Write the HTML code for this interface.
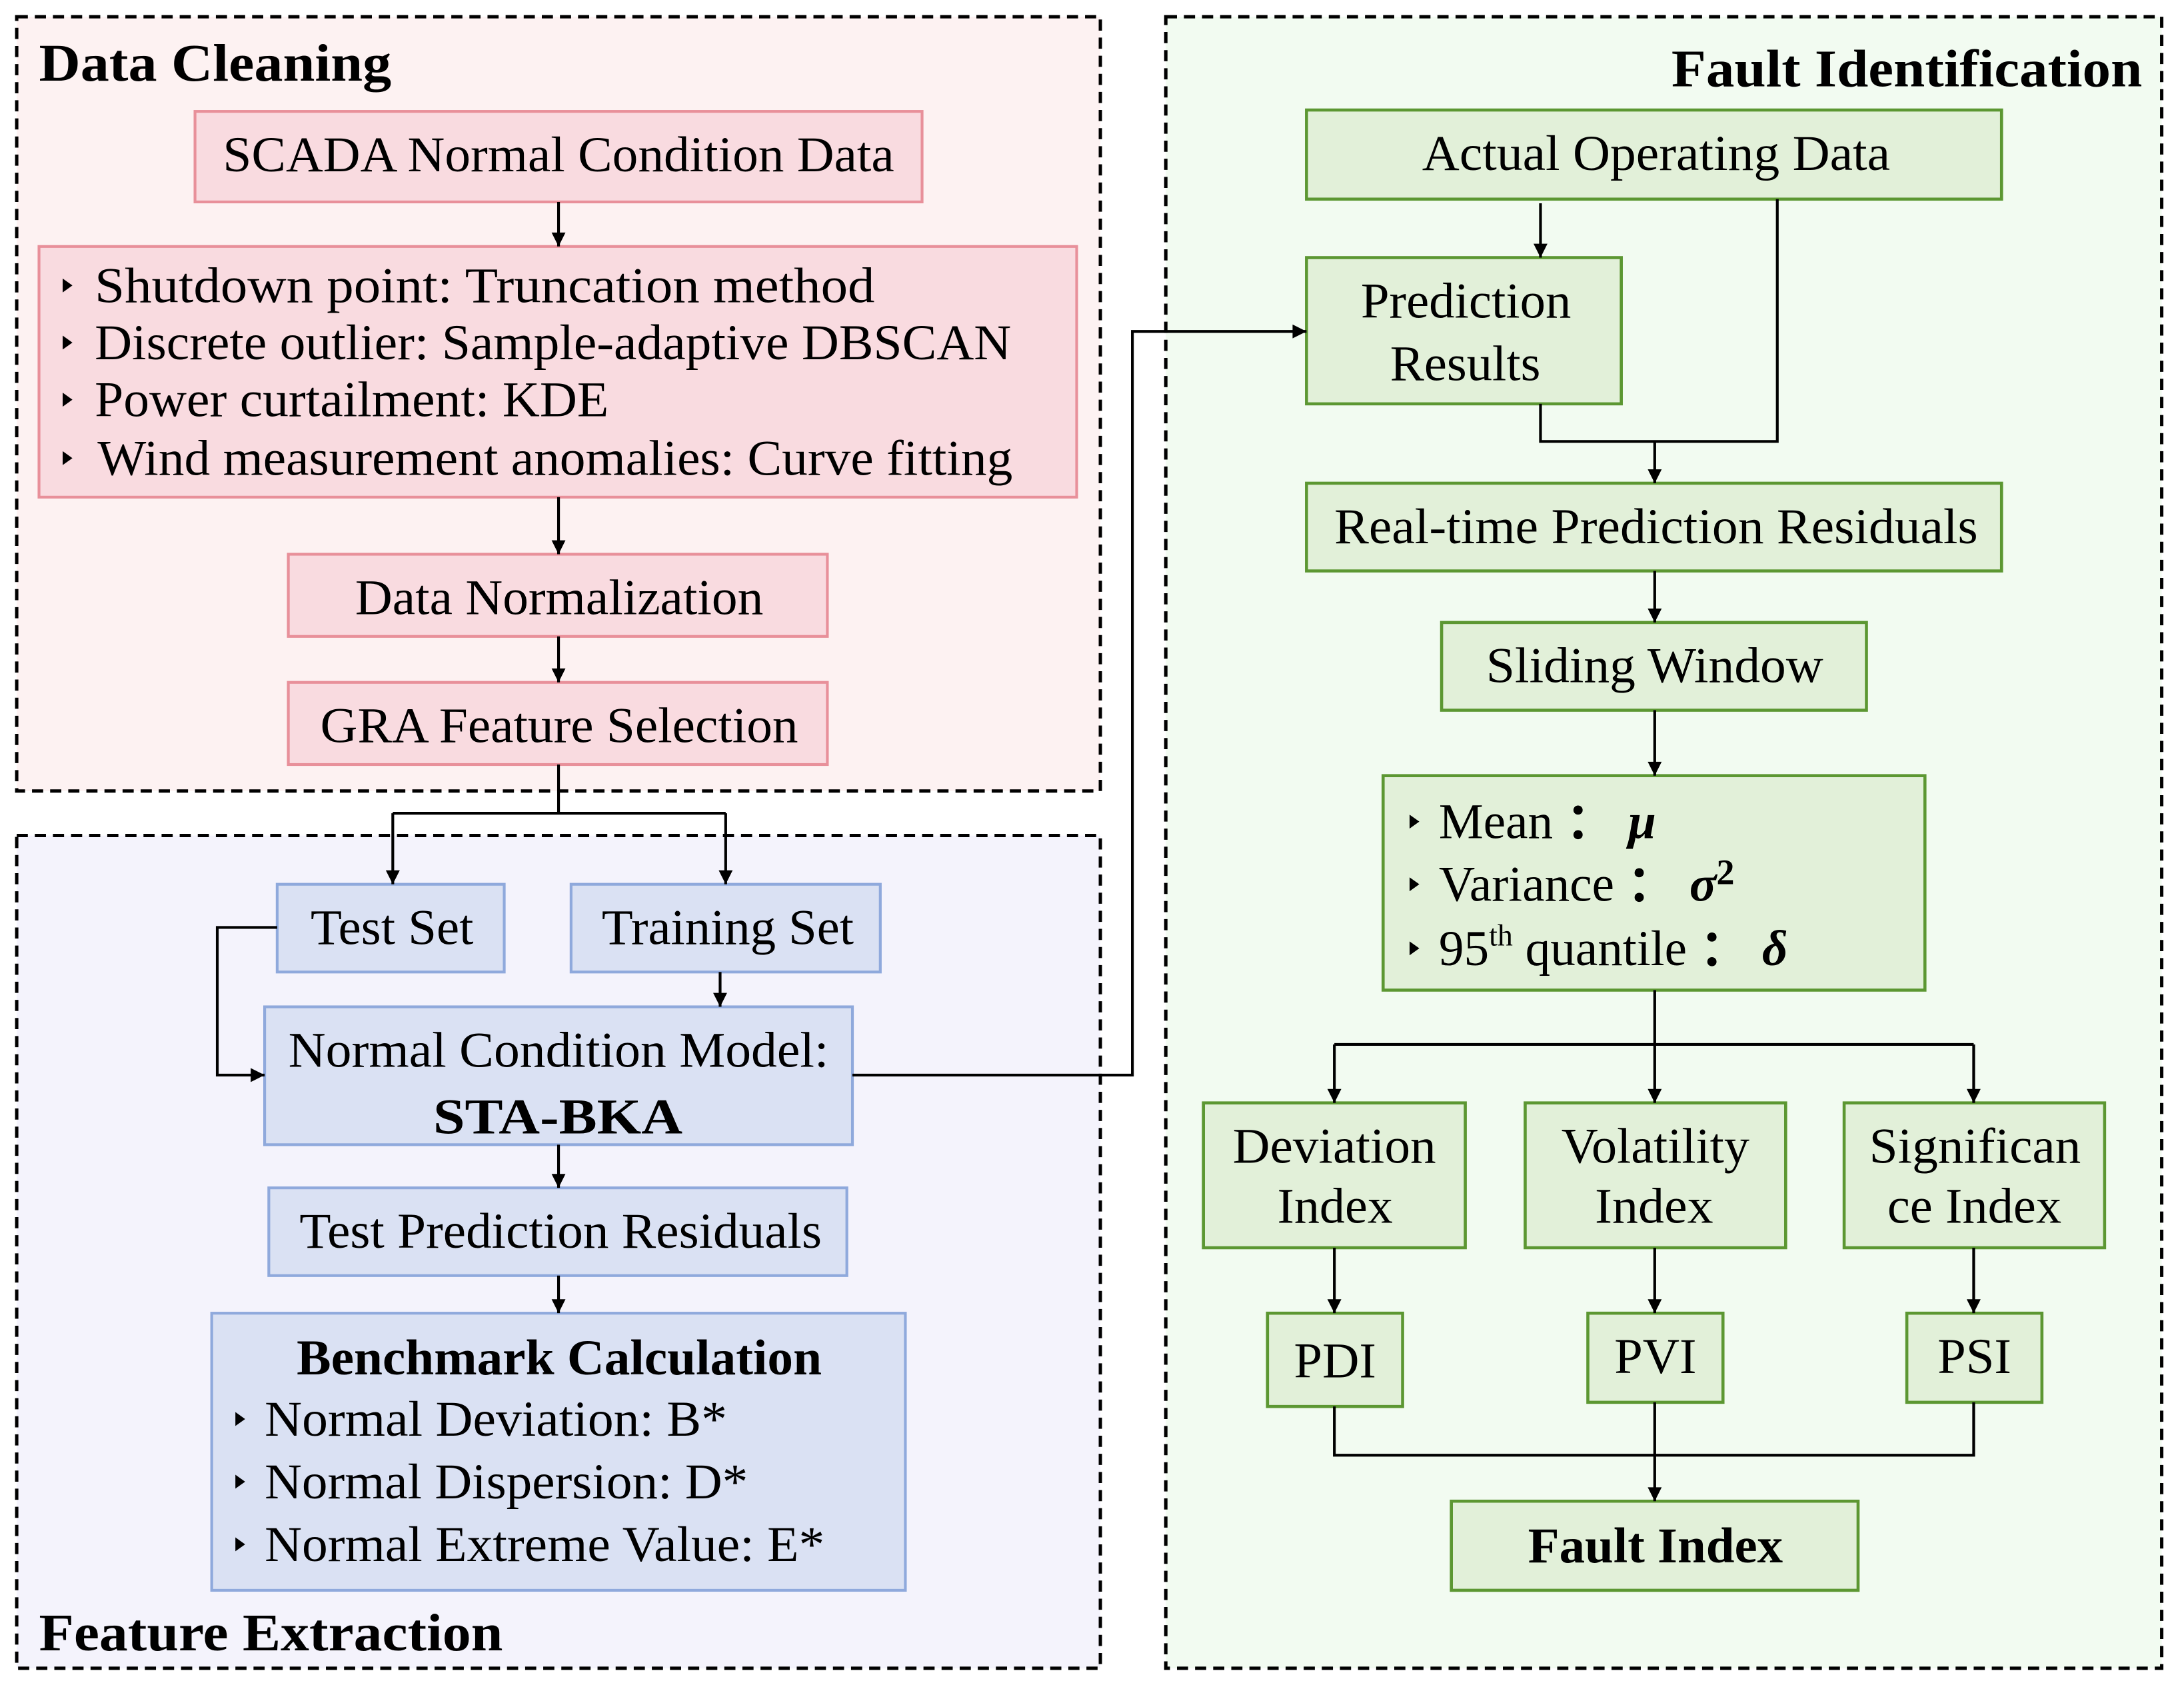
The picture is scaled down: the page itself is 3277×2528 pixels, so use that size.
<!DOCTYPE html>
<html><head><meta charset="utf-8"><style>
html,body{margin:0;padding:0;background:#fff;}
svg{display:block;}
text{font-family:"Liberation Serif",serif;fill:#000;}
</style></head><body>
<svg width="3277" height="2528" viewBox="0 0 1568 1210" preserveAspectRatio="none" xmlns="http://www.w3.org/2000/svg">
<defs>
<marker id="a" viewBox="0 0 10 10" refX="10" refY="5" markerWidth="5.5" markerHeight="5" orient="auto" markerUnits="strokeWidth"><path d="M0,0 L10,5 L0,10 z" fill="#000"/></marker>
</defs>
<rect x="12" y="12" width="778" height="556" fill="#fdf2f2" stroke="#000" stroke-width="2.4" stroke-dasharray="8,5"/>
<rect x="12" y="600" width="778" height="598" fill="#f4f3fc" stroke="#000" stroke-width="2.4" stroke-dasharray="8,5"/>
<rect x="837" y="12" width="715" height="1186" fill="#f2fbf1" stroke="#000" stroke-width="2.4" stroke-dasharray="8,5"/>

<text x="28" y="58" font-size="38" font-weight="bold" textLength="253" lengthAdjust="spacingAndGlyphs">Data Cleaning</text>
<text x="28" y="1185" font-size="38" font-weight="bold" textLength="333" lengthAdjust="spacingAndGlyphs">Feature Extraction</text>
<text x="1200" y="62" font-size="38" font-weight="bold" textLength="338" lengthAdjust="spacingAndGlyphs">Fault Identification</text>

<g fill="#f9dbe0" stroke="#e8909a" stroke-width="2">
<rect x="140" y="80" width="522" height="65"/>
<rect x="28" y="177" width="745" height="180"/>
<rect x="207" y="398" width="387" height="59"/>
<rect x="207" y="490" width="387" height="59"/>
</g>
<g font-size="36">
<text x="160" y="123" textLength="482" lengthAdjust="spacingAndGlyphs">SCADA Normal Condition Data</text>
<text x="68" y="217" textLength="560" lengthAdjust="spacingAndGlyphs">Shutdown point: Truncation method</text>
<text x="68" y="258" textLength="658" lengthAdjust="spacingAndGlyphs">Discrete outlier: Sample-adaptive DBSCAN</text>
<text x="68" y="299" textLength="369" lengthAdjust="spacingAndGlyphs">Power curtailment: KDE</text>
<text x="70" y="341" textLength="657" lengthAdjust="spacingAndGlyphs">Wind measurement anomalies: Curve fitting</text>
<text x="255" y="441" textLength="293" lengthAdjust="spacingAndGlyphs">Data Normalization</text>
<text x="230" y="533" textLength="343" lengthAdjust="spacingAndGlyphs">GRA Feature Selection</text>
</g>
<g fill="#000">
<path d="M45,200 l7,5 l-7,5z"/><path d="M45,241 l7,5 l-7,5z"/><path d="M45,282 l7,5 l-7,5z"/><path d="M45,324 l7,5 l-7,5z"/>
</g>

<g fill="#dae1f3" stroke="#8fa9dc" stroke-width="2">
<rect x="199" y="635" width="163" height="63"/>
<rect x="410" y="635" width="222" height="63"/>
<rect x="190" y="723" width="422" height="99"/>
<rect x="193" y="853" width="415" height="63"/>
<rect x="152" y="943" width="498" height="199"/>
</g>
<g font-size="36">
<text x="223" y="678" textLength="117" lengthAdjust="spacingAndGlyphs">Test Set</text>
<text x="432" y="678" textLength="181" lengthAdjust="spacingAndGlyphs">Training Set</text>
<text x="207" y="766" textLength="388" lengthAdjust="spacingAndGlyphs">Normal Condition Model:</text>
<text x="311" y="814" font-weight="bold" textLength="179" lengthAdjust="spacingAndGlyphs">STA-BKA</text>
<text x="215" y="896" textLength="375" lengthAdjust="spacingAndGlyphs">Test Prediction Residuals</text>
<text x="213" y="987" font-weight="bold" textLength="377" lengthAdjust="spacingAndGlyphs">Benchmark Calculation</text>
<text x="190" y="1031" textLength="332" lengthAdjust="spacingAndGlyphs">Normal Deviation: B*</text>
<text x="190" y="1076" textLength="347" lengthAdjust="spacingAndGlyphs">Normal Dispersion: D*</text>
<text x="190" y="1121" textLength="402" lengthAdjust="spacingAndGlyphs">Normal Extreme Value: E*</text>
</g>
<g fill="#000">
<path d="M169,1014 l7,5 l-7,5z"/><path d="M169,1059 l7,5 l-7,5z"/><path d="M169,1104 l7,5 l-7,5z"/>
</g>

<g fill="#e2f0d9" stroke="#5c9732" stroke-width="2.2">
<rect x="938" y="79" width="499" height="64"/>
<rect x="938" y="185" width="226" height="105"/>
<rect x="938" y="347" width="499" height="63"/>
<rect x="1035" y="447" width="305" height="63"/>
<rect x="993" y="557" width="389" height="154"/>
<rect x="864" y="792" width="188" height="104"/>
<rect x="1095" y="792" width="187" height="104"/>
<rect x="1324" y="792" width="187" height="104"/>
<rect x="910" y="943" width="97" height="67"/>
<rect x="1140" y="943" width="97" height="64"/>
<rect x="1369" y="943" width="97" height="64"/>
<rect x="1042" y="1078" width="292" height="64"/>
</g>
<g font-size="36">
<text x="1021" y="122" textLength="336" lengthAdjust="spacingAndGlyphs">Actual Operating Data</text>
<text x="977" y="228" textLength="151" lengthAdjust="spacingAndGlyphs">Prediction</text>
<text x="998" y="273" textLength="108" lengthAdjust="spacingAndGlyphs">Results</text>
<text x="958" y="390" textLength="462" lengthAdjust="spacingAndGlyphs">Real-time Prediction Residuals</text>
<text x="1067" y="490" textLength="242" lengthAdjust="spacingAndGlyphs">Sliding Window</text>
<text x="1033" y="602">Mean <tspan font-weight="bold">：</tspan> <tspan font-weight="bold" font-style="italic">μ</tspan></text>
<text x="1033" y="647">Variance <tspan font-weight="bold">：</tspan> <tspan font-weight="bold" font-style="italic">σ</tspan><tspan font-weight="bold" font-size="26" dy="-12">2</tspan></text>
<text x="1033" y="693">95<tspan font-size="22" dy="-14">th</tspan><tspan dy="14"> quantile </tspan><tspan font-weight="bold">：</tspan> <tspan font-weight="bold" font-style="italic">δ</tspan></text>
<text x="885" y="835" textLength="146" lengthAdjust="spacingAndGlyphs">Deviation</text>
<text x="917" y="878" textLength="83" lengthAdjust="spacingAndGlyphs">Index</text>
<text x="1121" y="835" textLength="135" lengthAdjust="spacingAndGlyphs">Volatility</text>
<text x="1145" y="878" textLength="85" lengthAdjust="spacingAndGlyphs">Index</text>
<text x="1342" y="835" textLength="152" lengthAdjust="spacingAndGlyphs">Significan</text>
<text x="1355" y="878" textLength="125" lengthAdjust="spacingAndGlyphs">ce Index</text>
<text x="929" y="989" textLength="59" lengthAdjust="spacingAndGlyphs">PDI</text>
<text x="1159" y="986" textLength="59" lengthAdjust="spacingAndGlyphs">PVI</text>
<text x="1391" y="986" textLength="53" lengthAdjust="spacingAndGlyphs">PSI</text>
<text x="1097" y="1122" font-weight="bold" textLength="183" lengthAdjust="spacingAndGlyphs">Fault Index</text>
</g>
<g fill="#000">
<path d="M1012,585 l7,5 l-7,5z"/><path d="M1012,630 l7,5 l-7,5z"/><path d="M1012,676 l7,5 l-7,5z"/>
</g>

<g stroke="#000" stroke-width="2" fill="none">
<path d="M401,145 V177" marker-end="url(#a)"/>
<path d="M401,357 V398" marker-end="url(#a)"/>
<path d="M401,457 V490" marker-end="url(#a)"/>
<path d="M401,549 V584 M282,584 H521"/>
<path d="M282,584 V635" marker-end="url(#a)"/>
<path d="M521,584 V635" marker-end="url(#a)"/>
<path d="M199,666 H156 V772 H190" marker-end="url(#a)"/>
<path d="M517,698 V723" marker-end="url(#a)"/>
<path d="M401,822 V853" marker-end="url(#a)"/>
<path d="M401,916 V943" marker-end="url(#a)"/>
<path d="M612,772 H813 V238 H938" marker-end="url(#a)"/>
<path d="M1106,146 V185" marker-end="url(#a)"/>
<path d="M1276,143 V317 H1106 V290"/>
<path d="M1188,317 V347" marker-end="url(#a)"/>
<path d="M1188,410 V447" marker-end="url(#a)"/>
<path d="M1188,510 V557" marker-end="url(#a)"/>
<path d="M1188,711 V750 M958,750 H1417"/>
<path d="M958,750 V792" marker-end="url(#a)"/>
<path d="M1188,750 V792" marker-end="url(#a)"/>
<path d="M1417,750 V792" marker-end="url(#a)"/>
<path d="M958,896 V943" marker-end="url(#a)"/>
<path d="M1188,896 V943" marker-end="url(#a)"/>
<path d="M1417,896 V943" marker-end="url(#a)"/>
<path d="M958,1010 V1045 H1417 V1007"/>
<path d="M1188,1007 V1078" marker-end="url(#a)"/>
</g>
</svg>
</body></html>
